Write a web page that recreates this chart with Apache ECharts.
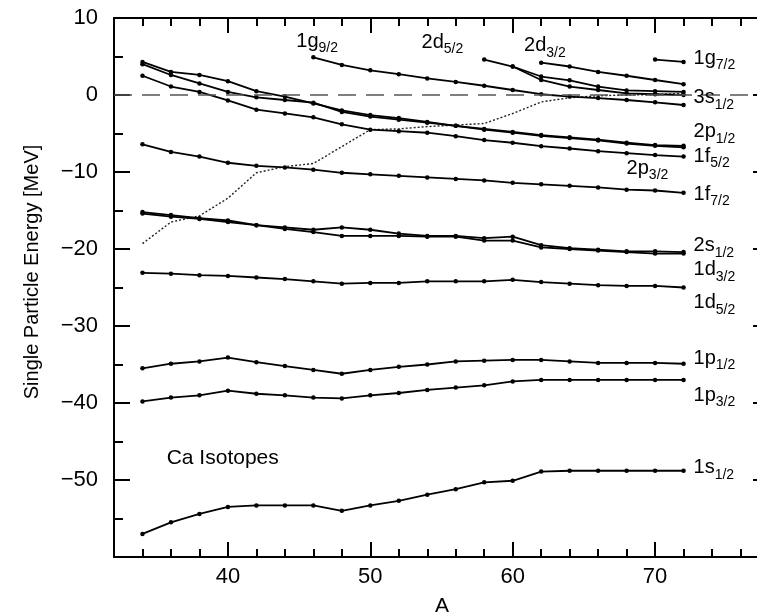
<!DOCTYPE html>
<html>
<head>
<meta charset="utf-8">
<script src="https://cdn.jsdelivr.net/npm/echarts@6/dist/echarts.min.js"></script>
<style>
  html, body { margin: 0; padding: 0; background: #fff; }
  #chart { width: 757px; height: 616px; }
</style>
</head>
<body>
<div id="chart"></div>
<script>
// mass number of every calculated isotope
var massA = [34, 36, 38, 40, 42, 44, 46, 48, 50, 52, 54, 56, 58, 60, 62, 64, 66, 68, 70, 72];

// single particle energies [MeV], one value per isotope (null = level not shown)
var lev1s12 = [-57.0, -55.5, -54.4, -53.5, -53.3, -53.3, -53.3, -54.0, -53.3, -52.7, -51.9, -51.2, -50.3, -50.1, -48.9, -48.8, -48.8, -48.8, -48.8, -48.8];
var lev1p32 = [-39.8, -39.3, -39.0, -38.4, -38.8, -39.0, -39.3, -39.4, -39.0, -38.7, -38.3, -38.0, -37.7, -37.2, -37.0, -37.0, -37.0, -37.0, -37.0, -37.0];
var lev1p12 = [-35.5, -34.9, -34.6, -34.1, -34.7, -35.2, -35.7, -36.2, -35.7, -35.3, -35.0, -34.6, -34.5, -34.4, -34.4, -34.6, -34.8, -34.8, -34.8, -34.9];
var lev1d52 = [-23.1, -23.2, -23.4, -23.5, -23.7, -23.9, -24.2, -24.5, -24.4, -24.4, -24.2, -24.2, -24.2, -24.0, -24.3, -24.5, -24.7, -24.8, -24.8, -25.0];
var lev2s12 = [-15.2, -15.6, -16.0, -16.3, -16.9, -17.2, -17.5, -17.2, -17.5, -18.0, -18.3, -18.3, -18.6, -18.4, -19.5, -19.9, -20.1, -20.3, -20.3, -20.4];
var lev1d32 = [-15.4, -15.8, -16.1, -16.5, -16.9, -17.4, -17.8, -18.3, -18.3, -18.3, -18.4, -18.4, -18.9, -18.9, -19.8, -20.0, -20.2, -20.4, -20.6, -20.6];
var lev1f72 = [-6.4, -7.4, -8.0, -8.8, -9.2, -9.4, -9.7, -10.1, -10.3, -10.5, -10.7, -10.9, -11.1, -11.4, -11.6, -11.8, -12.0, -12.3, -12.4, -12.7];
var lev2p32 = [4.3, 3.0, 2.6, 1.8, 0.5, -0.2, -1.1, -2.0, -2.6, -3.0, -3.5, -4.0, -4.4, -4.8, -5.2, -5.5, -5.8, -6.2, -6.5, -6.6];
var lev2p12 = [4.0, 2.6, 1.5, 0.4, -0.3, -0.65, -1.0, -2.2, -2.8, -3.2, -3.6, -4.0, -4.5, -4.9, -5.3, -5.6, -5.9, -6.3, -6.6, -6.8];
var lev1f52 = [2.5, 1.1, 0.4, -0.7, -1.9, -2.4, -2.9, -3.8, -4.5, -4.7, -4.9, -5.35, -5.85, -6.2, -6.65, -6.95, -7.3, -7.55, -7.8, -8.0];
var lev1g92 = [null, null, null, null, null, null, 4.9, 3.9, 3.2, 2.7, 2.15, 1.7, 1.2, 0.65, 0.1, -0.2, -0.4, -0.65, -0.95, -1.3];
var lev2d52 = [null, null, null, null, null, null, null, null, null, null, null, null, 4.6, 3.7, 1.95, 1.1, 0.65, 0.2, 0.1, 0.0];
var lev3s12 = [null, null, null, null, null, null, null, null, null, null, null, null, null, 3.7, 2.4, 1.9, 1.1, 0.6, 0.5, 0.4];
var lev2d32 = [null, null, null, null, null, null, null, null, null, null, null, null, null, null, 4.2, 3.7, 3.0, 2.5, 1.95, 1.4];
var lev1g72 = [null, null, null, null, null, null, null, null, null, null, null, null, null, null, null, null, null, null, 4.6, 4.3];
// dotted curve (Fermi energy)
var fermiLevel = [-19.3, -16.5, -15.7, -13.4, -10.1, -9.3, -8.9, -6.7, -4.5, -4.4, -4.1, -3.9, -3.7, -2.4, -0.9, -0.35, -0.1, 0.0, 0.05, 0.2];

// tick values
var xMajorTicks = [40, 50, 60, 70];
var xMinorTicks = [34, 36, 38, 42, 44, 46, 48, 52, 54, 56, 58, 62, 64, 66, 68, 72, 74, 76];

var levels = [lev1s12, lev1p32, lev1p12, lev1d52, lev2s12, lev1d32, lev1f72,
              lev2p32, lev2p12, lev1f52, lev1g92, lev2d52, lev3s12, lev2d32, lev1g72];

// level names placed next to the curves (anchor in data units)
var levelLabels = [
    { main: '1g', sub: '9/2', at: [44.8, 7.0] },
    { main: '2d', sub: '5/2', at: [53.6, 6.8] },
    { main: '2d', sub: '3/2', at: [60.8, 6.4] },
    { main: '1g', sub: '7/2', at: [72.7, 4.8] },
    { main: '3s', sub: '1/2', at: [72.7, -0.35] },
    { main: '2p', sub: '1/2', at: [72.7, -4.8] },
    { main: '1f', sub: '5/2', at: [72.7, -8.0] },
    { main: '2p', sub: '3/2', at: [68.0, -9.5] },
    { main: '1f', sub: '7/2', at: [72.7, -12.9] },
    { main: '2s', sub: '1/2', at: [72.7, -19.6] },
    { main: '1d', sub: '3/2', at: [72.7, -22.7] },
    { main: '1d', sub: '5/2', at: [72.7, -27.0] },
    { main: '1p', sub: '1/2', at: [72.7, -34.2] },
    { main: '1p', sub: '3/2', at: [72.7, -39.0] },
    { main: '1s', sub: '1/2', at: [72.7, -48.4] }
];

var FONT = '"Liberation Sans", Arial, Helvetica, sans-serif';

function pairs(values) {
    return massA.map(function (a, i) { return [a, values[i]]; });
}

var series = levels.map(function (vals) {
    return {
        type: 'line',
        data: pairs(vals),
        xAxisIndex: 0,
        yAxisIndex: 0,
        connectNulls: false,
        symbol: 'circle',
        symbolSize: 4.5,
        itemStyle: { color: '#000' },
        lineStyle: { color: '#000', width: 1.8 },
        z: 3
    };
});

series.push({
    type: 'line',
    data: pairs(fermiLevel),
    xAxisIndex: 0,
    yAxisIndex: 0,
    showSymbol: false,
    lineStyle: { color: '#222', width: 1.4, type: [2, 2] },
    z: 2,
    markLine: {
        silent: true,
        symbol: 'none',
        label: { show: false },
        lineStyle: { color: '#555', width: 1.6, type: [18, 10] },
        data: [{ yAxis: 0 }]
    }
});

var frame = { show: true, onZero: false, lineStyle: { color: '#000', width: 2 } };
var noLine = { show: false, onZero: false };

function xAxisDef(pos, ticks, len, withLine, withLabel) {
    return {
        type: 'value', position: pos, min: 32, max: 78, interval: 2,
        axisLine: withLine ? frame : noLine,
        axisTick: { show: true, inside: true, length: len, customValues: ticks,
                    lineStyle: { color: '#000', width: 2 } },
        axisLabel: withLabel ? { show: true, customValues: xMajorTicks, margin: 9,
                                 color: '#000', fontSize: 22, fontFamily: FONT }
                             : { show: false },
        splitLine: { show: false }
    };
}

function yAxisDef(pos, withLabel) {
    return {
        type: 'value', position: pos, min: -60, max: 10, interval: 10,
        axisLine: frame,
        axisTick: { show: true, inside: true, length: 16, lineStyle: { color: '#000', width: 2 } },
        minorTick: { show: true, splitNumber: 2, length: 9, lineStyle: { color: '#000', width: 2 } },
        axisLabel: withLabel ? {
            show: true, margin: 16, color: '#000', fontSize: 22, fontFamily: FONT,
            formatter: function (v) { return v === -60 ? '' : String(v).replace('-', '\u2212'); }
        } : { show: false },
        splitLine: { show: false }
    };
}

var option = {
    backgroundColor: '#ffffff',
    animation: false,
    grid: { left: 114, top: 18, bottom: 59, right: -12, containLabel: false, outerBoundsMode: 'none' },
    xAxis: [
        xAxisDef('bottom', xMajorTicks, 15, true, true),
        xAxisDef('bottom', xMinorTicks, 8, false, false),
        xAxisDef('top', xMajorTicks, 15, true, false),
        xAxisDef('top', xMinorTicks, 8, false, false)
    ],
    yAxis: [yAxisDef('left', true), yAxisDef('right', false)],
    series: series
};

var chart = echarts.init(document.getElementById('chart'));
chart.setOption(option);

// texts: level names, axis titles, caption
var graphics = levelLabels.map(function (l) {
    var p = chart.convertToPixel({ seriesIndex: 0 }, l.at);
    return {
        type: 'text', x: p[0], y: p[1], z: 10,
        style: {
            text: '{m|' + l.main + '}{s|' + l.sub + '}',
            textAlign: 'left', textVerticalAlign: 'middle',
            rich: {
                m: { fontSize: 20, fontFamily: FONT, fill: '#000', color: '#000' },
                s: { fontSize: 14, fontFamily: FONT, fill: '#000', color: '#000', padding: [14, 0, 0, 0] }
            }
        }
    };
});

var capPos = chart.convertToPixel({ seriesIndex: 0 }, [35.7, -47.2]);
graphics.push({
    type: 'text', x: capPos[0], y: capPos[1], z: 10,
    style: { text: 'Ca Isotopes', fontSize: 21, fontFamily: FONT, fill: '#000',
             textAlign: 'left', textVerticalAlign: 'middle' }
});
graphics.push({
    type: 'text', x: 32, y: 272, rotation: Math.PI / 2, z: 10,
    style: { text: 'Single Particle Energy [MeV]', fontSize: 20, fontFamily: FONT, fill: '#000',
             textAlign: 'center', textVerticalAlign: 'middle' }
});
graphics.push({
    type: 'text', x: 442, y: 606, z: 10,
    style: { text: 'A', fontSize: 21, fontFamily: FONT, fill: '#000',
             textAlign: 'center', textVerticalAlign: 'middle' }
});

chart.setOption({ graphic: graphics });
</script>
</body>
</html>
